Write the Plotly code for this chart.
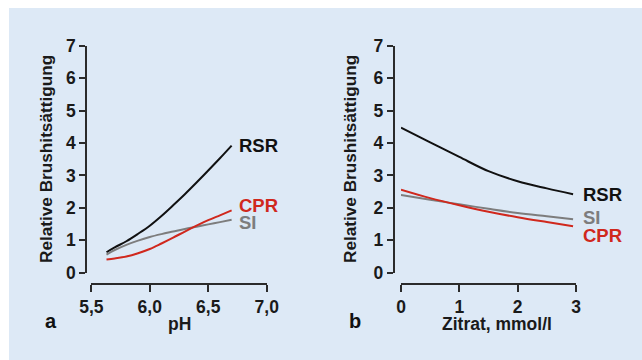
import plotly.graph_objects as go

W, H = 642, 360

# ---------------- data ----------------
ph_x = [5.63, 5.7, 5.8, 5.9, 6.0, 6.1, 6.2, 6.3, 6.4, 6.5, 6.6, 6.7]
ph_rsr = [0.63, 0.78, 0.97, 1.20, 1.45, 1.75, 2.08, 2.42, 2.78, 3.15, 3.53, 3.92]
ph_cpr = [0.41, 0.44, 0.50, 0.60, 0.73, 0.90, 1.08, 1.27, 1.45, 1.62, 1.77, 1.92]
ph_si = [0.56, 0.70, 0.86, 0.99, 1.10, 1.19, 1.27, 1.35, 1.42, 1.49, 1.56, 1.63]

cit_x = [0.0, 0.5, 1.0, 1.5, 2.0, 2.5, 2.95]
cit_rsr = [4.47, 4.02, 3.57, 3.13, 2.82, 2.60, 2.42]
cit_cpr = [2.56, 2.30, 2.08, 1.88, 1.71, 1.56, 1.43]
cit_si = [2.40, 2.25, 2.11, 1.97, 1.84, 1.74, 1.65]

ph_ticks = [5.5, 6.0, 6.5, 7.0]
ph_ticktext = ["5,5", "6,0", "6,5", "7,0"]
cit_ticks = [0, 1, 2, 3]
cit_ticktext = ["0", "1", "2", "3"]
y_ticks = [0, 1, 2, 3, 4, 5, 6, 7]

# ---------------- style ----------------
BG = "#dde9f6"
AX = "#2b2b2b"
C_RSR = "#111111"
C_CPR = "#d0281d"
C_SI = "#7d7d7d"
FONT = "Liberation Sans, Arial, sans-serif"


def px(x):
    return x / W


def py(y):
    return 1 - y / H


fig = go.Figure()

series = [
    ("x", "y", ph_x, ph_rsr, C_RSR),
    ("x", "y", ph_x, ph_si, C_SI),
    ("x", "y", ph_x, ph_cpr, C_CPR),
    ("x2", "y2", cit_x, cit_rsr, C_RSR),
    ("x2", "y2", cit_x, cit_si, C_SI),
    ("x2", "y2", cit_x, cit_cpr, C_CPR),
]
for xa, ya, xs, ys, col in series:
    fig.add_trace(go.Scatter(x=xs, y=ys, xaxis=xa, yaxis=ya, mode="lines",
                             line=dict(color=col, width=2, shape="spline"),
                             showlegend=False, hoverinfo="skip"))

tickfont = dict(family=FONT, size=17.5, color="#1a1a1a", weight="bold")
common_y = dict(range=[0, 7], tickvals=y_ticks, ticks="outside", ticklen=6,
                tickwidth=1.7, tickcolor=AX, showline=True, linecolor=AX,
                linewidth=1.7, showgrid=False, zeroline=False, tickfont=tickfont,
                domain=[py(272.7), py(45.7)], anchor="free", automargin=False)
common_x = dict(ticks="outside", ticklen=7, tickwidth=1.7, tickcolor=AX,
                showline=True, linecolor=AX, linewidth=1.7, showgrid=False,
                zeroline=False, tickfont=tickfont, anchor="free",
                position=py(284), automargin=False)

fig.update_layout(
    template="none",
    width=W, height=H, autosize=False,
    margin=dict(l=0, r=0, t=0, b=0, pad=0, autoexpand=False),
    paper_bgcolor="white",
    plot_bgcolor="rgba(0,0,0,0)",
    font=dict(family=FONT),
    xaxis=dict(range=[5.5, 7.0], tickvals=ph_ticks, ticktext=ph_ticktext,
               domain=[px(91.3), px(266.7)], **common_x),
    yaxis=dict(position=px(86), **common_y),
    xaxis2=dict(range=[0, 3], tickvals=cit_ticks, ticktext=cit_ticktext,
                domain=[px(401), px(576)], **common_x),
    yaxis2=dict(position=px(393.7), **common_y),
    shapes=[dict(type="rect", xref="paper", yref="paper", x0=px(9), x1=1,
                 y0=0, y1=py(8), fillcolor=BG, line=dict(width=0), layer="below")],
)

ann = []
# axis titles
for xc, text in [(180, "pH"), (497, "Zitrat, mmol/l")]:
    ann.append(dict(xref="paper", yref="paper", x=px(xc), y=py(323.5), text=text,
                    showarrow=False,
                    font=dict(family=FONT, size=17.5, weight="bold", color="#1a1a1a"),
                    xanchor="center", yanchor="middle"))
for xc in [46, 350]:
    ann.append(dict(xref="paper", yref="paper", x=px(xc), y=py(159),
                    text="Relative Brushitsättigung", textangle=-90,
                    showarrow=False,
                    font=dict(family=FONT, size=17.2, weight="bold", color="#1a1a1a"),
                    xanchor="center", yanchor="middle"))
# panel letters
for xc, text in [(50.5, "a"), (354.5, "b")]:
    ann.append(dict(xref="paper", yref="paper", x=px(xc), y=py(321), text=text,
                    showarrow=False, font=dict(family=FONT, size=20, weight="bold",
                                                color="#111111"),
                    xanchor="center", yanchor="middle"))
# series labels
for xc, yc, text, col in [(237, 145, "RSR", C_RSR), (237, 205, "CPR", C_CPR),
                          (237, 222.5, "SI", C_SI), (581, 194, "RSR", C_RSR),
                          (581, 218, "SI", C_SI), (581, 235, "CPR", C_CPR)]:
    ann.append(dict(xref="paper", yref="paper", x=px(xc), y=py(yc), text=text,
                    showarrow=False,
                    font=dict(family=FONT, size=18.5, weight="bold", color=col),
                    xanchor="left", yanchor="middle"))
fig.update_layout(annotations=ann)

fig.write_html(
    "out.html",
    config={"displayModeBar": False},
    post_script="document.body.style.margin='0';document.body.style.overflow='hidden';",
)
